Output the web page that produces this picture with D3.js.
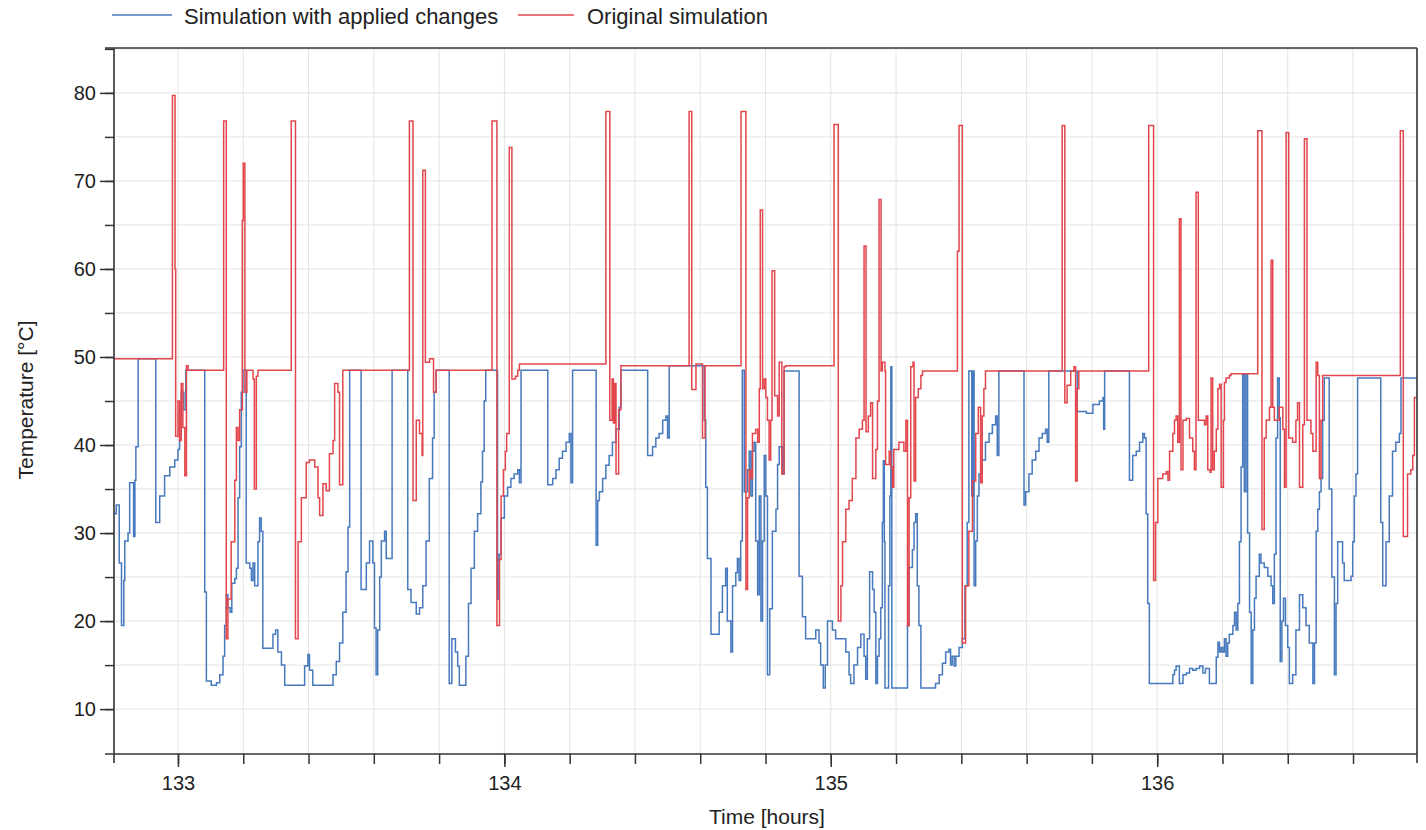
<!DOCTYPE html>
<html>
<head>
<meta charset="utf-8">
<script src="https://cdn.jsdelivr.net/npm/d3@7"></script>
<style>
  body { margin: 0; background: #fff; }
  svg text { font-family: "Liberation Sans", Arial, sans-serif; fill: #222; }
</style>
</head>
<body>
<svg id="chart"></svg>
<script>
// ---------------------------- Data ----------------------------

// Original simulation (red) - time [h], temperature [°C], value holds until next time
var timeOriginal = [
  132.803,132.983,132.991,132.993,133.000,133.005,133.010,133.015,133.021,133.026,133.031,
  133.140,133.148,133.153,133.163,133.174,133.179,133.184,133.189,133.197,133.200,133.205,133.211,133.230,133.234,133.240,133.245,
  133.347,133.360,133.368,133.378,133.393,133.403,133.419,133.429,133.434,133.444,133.454,133.464,133.475,133.480,133.490,133.495,133.505,
  133.709,133.720,133.730,133.740,133.748,133.750,133.758,133.771,133.783,133.791,
  133.962,133.977,133.985,133.990,133.997,134.003,134.007,134.015,134.023,134.034,134.041,134.046,
  134.311,134.323,134.330,134.334,134.338,134.342,134.350,134.357,
  134.566,134.574,134.587,134.607,134.615,
  134.725,134.740,134.745,134.750,134.755,134.760,134.770,134.776,134.781,134.784,134.791,134.796,134.801,134.806,134.811,134.816,134.820,134.828,134.837,134.842,134.850,134.857,134.862,
  135.010,135.023,135.031,135.036,135.046,135.056,135.066,135.077,135.087,135.097,135.102,135.108,135.115,135.122,135.128,135.138,135.143,135.148,135.154,135.158,135.166,135.168,135.179,135.184,135.189,135.193,135.209,135.224,135.230,135.235,135.240,135.245,135.252,135.255,135.260,135.268,135.276,135.281,
  135.388,135.393,135.403,135.413,135.423,135.434,135.444,135.452,135.459,135.464,135.469,135.474,
  135.709,135.717,135.724,135.735,135.745,135.750,135.755,135.760,
  135.974,135.989,135.995,136.002,136.017,136.028,136.033,136.038,136.048,136.053,136.058,136.063,136.068,136.073,136.079,136.089,136.099,136.109,136.114,136.119,136.126,136.145,136.150,136.155,136.162,136.165,136.170,136.175,136.181,136.186,136.191,136.196,136.203,136.206,136.211,136.221,136.226,
  136.308,136.321,136.328,136.334,136.344,136.349,136.354,136.359,136.374,136.385,136.390,136.395,136.403,136.415,136.425,136.430,136.436,136.446,136.451,136.459,136.471,136.477,136.487,136.492,136.497,136.502,136.507,
  136.745,136.754,136.767,136.777,136.783,136.788,136.796
];
var tempOriginal = [
  49.8,79.7,60,41,45,40.5,47,42,36.5,49,48.5,
  76.8,18,22.5,29,36,42,40.5,44,65.5,72,46,48.5,47.5,35,47.8,48.5,
  76.8,18,29,34,38,38.3,37.5,34,32,35.6,34.8,39,40.5,47,46,35.5,48.5,
  76.8,33.7,42.8,41.3,38.8,71.2,49.4,49.8,46,48.5,
  76.8,19.5,27,34.2,37.2,39.3,41.3,73.8,47.5,47.8,48.5,49.2,
  77.9,42.8,47.5,42.5,47,36.7,44,49,
  77.9,46.3,49.2,40.8,49,
  77.9,23.6,34,37.2,36.2,41.3,41.8,40.3,46.4,66.7,46.4,47.5,45.4,42.8,38.3,42.8,59.8,45.6,43.3,49.4,36.7,48.9,49,
  76.4,20,24,29,32.7,33.7,36.2,40.8,41.8,42.8,62.6,41.5,43.3,44.8,36.2,39.5,45,67.9,48.4,49.4,48.4,37.8,39.3,37.5,35.2,39.5,40.3,39.3,42.8,19.5,34,48.9,49.4,35.9,45.4,46.4,47.9,48.4,
  62,76.3,17.5,24,30.2,35.9,41.3,44.3,35.7,43.3,46.4,48.4,
  76.3,44.8,46.8,48.4,48.9,35.9,46.4,48.4,
  76.3,24.6,31.2,36.2,36.7,37,36,39.3,41.3,42.8,43.3,40.3,65.7,37.2,42.8,43,40.8,39.3,37.2,68.7,42.8,42.3,43.3,37.2,36.9,47.6,37.2,39.3,41.8,46.4,46.9,35.2,42.8,47.1,47.6,47.9,48.1,
  75.7,30.4,40.8,42.8,44.3,61,44.3,42.8,44.3,41.8,35.2,75.5,40.8,40.3,42.8,44.8,35.2,42.3,74.8,42.8,41.3,39.3,49.4,47.9,36.2,42.8,47.9,
  75.7,29.6,36.7,37.2,38.8,45.4,45.4
];

// Simulation with applied changes (blue)
var timeChanged = [
  132.803,132.811,132.820,132.827,132.834,132.837,132.847,132.852,132.864,132.868,132.871,132.878,
  132.932,132.944,132.959,132.975,132.990,133.000,133.005,133.010,133.018,133.024,
  133.082,133.087,133.102,133.118,133.128,133.138,133.143,133.148,133.153,133.160,133.165,133.174,133.179,133.184,133.189,133.194,133.199,
  133.209,133.220,133.225,133.230,133.235,133.245,133.250,133.255,133.260,133.291,133.299,133.306,133.317,133.327,133.388,133.398,133.403,133.413,
  133.475,133.485,133.495,133.505,133.515,133.521,133.526,
  133.561,133.577,133.587,133.597,133.602,133.607,133.612,133.618,133.623,133.633,133.638,133.656,
  133.704,133.714,133.730,133.740,133.750,133.760,133.770,133.780,133.785,133.791,
  133.831,133.839,133.850,133.857,133.862,133.882,133.890,133.898,133.908,133.918,133.928,133.933,133.938,133.943,
  133.979,133.984,133.990,134.000,134.010,134.020,134.030,134.041,134.046,134.051,
  134.133,134.148,134.158,134.168,134.178,134.189,134.199,134.204,134.209,
  134.281,134.286,134.291,134.301,134.311,134.321,134.331,134.342,134.352,134.357,
  134.439,134.454,134.464,134.474,134.485,134.495,134.500,134.505,
  134.612,134.617,134.622,134.633,134.658,134.668,134.678,134.683,134.694,134.699,134.709,134.714,134.719,134.724,134.729,134.735,134.745,
  134.750,134.755,134.760,134.765,134.770,134.776,134.781,134.786,134.791,134.796,134.801,134.806,134.813,134.821,134.832,134.837,134.842,134.852,134.857,
  134.903,134.913,134.923,134.954,134.964,134.969,134.977,134.983,134.990,135.005,135.015,135.046,135.056,135.061,135.071,135.082,135.092,135.102,135.107,135.112,135.119,135.128,135.133,135.138,135.143,135.148,135.153,135.158,135.161,135.164,135.166,135.177,135.181,135.184,135.187,
  135.235,135.240,135.250,135.255,135.260,135.265,135.270,135.276,135.321,135.332,135.342,135.352,135.362,135.367,135.372,135.378,135.383,135.393,135.403,135.411,135.418,135.423,135.432,135.436,135.439,135.444,135.449,135.454,135.464,135.474,135.485,135.495,135.505,135.510,135.515,
  135.592,135.597,135.607,135.617,135.628,135.638,135.648,135.658,135.663,135.668,
  135.755,135.783,135.803,135.823,135.834,135.836,135.839,
  135.915,135.925,135.936,135.946,135.956,135.961,135.966,135.971,135.976,
  136.048,136.053,136.058,136.068,136.079,136.089,136.099,136.109,136.119,136.130,136.140,136.148,136.160,
  136.181,136.186,136.191,136.196,136.201,136.206,136.211,136.216,136.221,136.232,136.237,136.242,136.247,136.252,136.257,136.262,136.267,136.272,136.277,136.283,136.288,
  136.293,136.298,136.303,136.313,136.318,136.328,136.339,136.349,136.354,136.359,136.364,136.369,136.374,136.377,136.382,136.387,136.393,136.400,136.405,
  136.415,136.425,136.436,136.446,136.456,136.466,136.477,136.482,136.487,136.492,136.497,136.502,136.507,136.512,
  136.527,136.535,136.543,136.548,136.553,136.568,136.573,136.594,136.599,136.604,136.609,136.614,
  136.685,136.691,136.701,136.711,136.721,136.731,136.742,136.747,136.796
];
var tempChanged = [
  32.2,33.2,26.6,19.5,24.6,29.1,30,35.7,29.6,36,39.8,49.8,
  31.2,34.2,36.5,37.5,38.3,39.5,42,46,44,48.5,
  23.3,13.2,12.7,13,13.9,16,19.5,23,21.5,21,24.3,24.8,26,34,39.8,46,48.5,
  26.6,26,24.6,26.6,24,29,31.7,30.2,16.9,18.5,19,16.5,15,12.7,14.9,16.2,14.4,12.7,
  13.9,15.4,17.5,21,25.6,30.7,48.5,
  23.6,26.6,29.1,26.6,19.2,13.9,19,25,29.1,30.2,27.1,48.5,
  23.6,22.1,20.8,21.5,24,29.1,36.2,40.8,46,48.5,
  12.9,18,16.5,14.9,12.7,16,22,26,30.2,32.2,35.8,39.3,45,48.5,
  22.5,27.6,31.7,34.2,35.2,36.2,36.7,37.2,35.7,48.5,
  35.5,36.2,37.2,38.5,39.3,40.3,41.3,35.7,48.5,
  28.6,33.7,34.7,36.2,37.7,38.8,40.3,41.8,44.3,48.5,
  38.8,39.8,40.8,41.3,42.8,43.3,40.8,49,
  42.8,35.2,27.1,18.5,21,24,26,20,16.5,24,25.5,27.1,24.6,29.1,48.5,34.7,37.2,
  39.3,34.2,39.3,40.3,29.1,23,34.2,20,29.1,38.8,34.2,13.9,21.4,30.2,32.7,37.8,39.8,36.7,48.4,
  25.1,20.5,18,19,17.5,15,12.4,15,20,19,18,16.5,13.9,12.9,15,17,18.5,16,13.4,18,25.6,23.6,21,12.9,16,18,21.5,31.2,38.2,29,12.4,24,34.2,48.9,12.4,
  19.5,26.1,28.1,31.2,32.2,24,19.5,12.4,12.9,13.9,15.2,16.5,16.8,15,16,14.9,16,17,18,24,31.2,48.4,34.2,48.4,24,29.1,34.2,36.7,38.3,40.3,41.3,42.3,43.3,38.8,48.4,
  33.2,34.7,36.7,38.3,39.3,40.8,41.3,41.8,40.3,48.4,
  43.8,43.6,44.6,45,45.4,41.8,48.4,
  36,38.8,39.3,40.3,41.3,40.8,32.2,22,12.9,
  13.9,14.4,14.9,12.9,13.9,14.1,14.6,14.4,14.6,14.9,14.1,14.6,12.9,
  15.9,17.6,16.5,17,16.5,18,16,17.5,18.5,19.5,21,19,22,29,37.5,48,34.7,48,30,21,12.9,
  19,22.6,25.1,27.6,26.6,26.1,25.1,24,22,27.6,40.8,47.6,43.1,15.4,20,22.6,19.5,17,12.9,
  13.9,19,23,21.5,19.5,17.5,12.9,17.5,30.2,32.7,34.7,36.2,42.8,47.6,
  35,25,13.9,22,29,26.6,24.6,25.1,29,34.2,36.7,47.6,
  31.2,24,29,34.2,39.3,40.3,41.3,47.6,47.6
];

var legendLabels = ["Simulation with applied changes", "Original simulation"];
var xTickLabels = [133, 134, 135, 136];
var yTickLabels = [10, 20, 30, 40, 50, 60, 70, 80];

// ---------------------------- Chart ----------------------------

drawChart();

function drawChart(){

  var width = 1426, height = 830;
  var plotLeft = 114, plotRight = 1417, plotTop = 48, plotBottom = 754;
  var blue = "#4679bd", red = "#e2464c", axisColor = "#333";

  var svg = d3.select("#chart")
    .attr("width", width)
    .attr("height", height);

  svg.append("rect").attr("width", width).attr("height", height).attr("fill", "#fff");

  var xScale = d3.scaleLinear().domain([132.804, 136.796]).range([plotLeft, plotRight]);
  var yScale = d3.scaleLinear().domain([4.9, 85.1]).range([plotBottom, plotTop]);

  var xMinor = d3.range(133, 136.7, 0.2).map(d => +d.toFixed(1));
  var yMinor = d3.range(10, 86, 5);

  // grid
  svg.append("g").selectAll("line").data(xMinor).enter().append("line")
    .attr("x1", d => xScale(d)).attr("x2", d => xScale(d))
    .attr("y1", plotTop).attr("y2", plotBottom)
    .attr("stroke", "#e3e3e3").attr("stroke-width", 1);

  svg.append("g").selectAll("line").data(yMinor).enter().append("line")
    .attr("x1", plotLeft).attr("x2", plotRight)
    .attr("y1", d => yScale(d)).attr("y2", d => yScale(d))
    .attr("stroke", "#e3e3e3").attr("stroke-width", 1);

  // series
  svg.append("clipPath").attr("id", "plotClip")
    .append("rect").attr("x", plotLeft).attr("y", plotTop)
    .attr("width", plotRight - plotLeft).attr("height", plotBottom - plotTop);

  var line = d3.line()
    .x(d => xScale(d[0]))
    .y(d => yScale(d[1]))
    .curve(d3.curveStepAfter);

  var changed = timeChanged.map((t, i) => [t, tempChanged[i]]);
  var original = timeOriginal.map((t, i) => [t, tempOriginal[i]]);

  var plot = svg.append("g").attr("clip-path", "url(#plotClip)");
  plot.append("path").datum(changed)
    .attr("d", line).attr("fill", "none")
    .attr("stroke", blue).attr("stroke-width", 1.5);
  plot.append("path").datum(original)
    .attr("d", line).attr("fill", "none")
    .attr("stroke", red).attr("stroke-width", 1.5);

  // axes
  var xMinorAxis = d3.axisBottom(xScale).tickValues(xMinor).tickSize(10).tickFormat("");
  var xAxis = d3.axisBottom(xScale).tickValues(xTickLabels).tickSize(13).tickPadding(9).tickFormat(d3.format("d"));
  var yMinorAxis = d3.axisLeft(yScale).tickValues(yMinor).tickSize(9).tickFormat("");
  var yAxis = d3.axisLeft(yScale).tickValues(yTickLabels).tickSize(14).tickPadding(4).tickFormat(d3.format("d"));

  [xMinorAxis, xAxis].forEach(function(ax){
    svg.append("g").attr("transform", "translate(0," + plotBottom + ")").call(ax)
      .call(g => g.select(".domain").remove());
  });
  [yMinorAxis, yAxis].forEach(function(ax){
    svg.append("g").attr("transform", "translate(" + plotLeft + ",0)").call(ax)
      .call(g => g.select(".domain").remove());
  });

  svg.selectAll(".tick line").attr("stroke", axisColor).attr("stroke-width", 1.5);
  svg.selectAll(".tick text").style("font-size", "20px").attr("fill", "#222");

  // frame
  var frame = [
    [plotLeft - 9, plotTop, plotRight, plotTop],
    [plotRight, plotTop, plotRight, plotBottom + 9],
    [plotLeft - 9, plotBottom, plotRight, plotBottom],
    [plotLeft, plotTop, plotLeft, plotBottom + 9]
  ];
  svg.append("g").selectAll("line").data(frame).enter().append("line")
    .attr("x1", d => d[0]).attr("y1", d => d[1]).attr("x2", d => d[2]).attr("y2", d => d[3])
    .attr("stroke", axisColor).attr("stroke-width", 1.6);

  // axis titles
  svg.append("text")
    .text("Time [hours]")
    .attr("x", 767).attr("y", 824)
    .attr("text-anchor", "middle")
    .style("font-size", "21px");

  svg.append("text")
    .text("Temperature [°C]")
    .attr("transform", "translate(33,400) rotate(-90)")
    .attr("text-anchor", "middle")
    .style("font-size", "21px");

  // legend
  var legendItems = [
    { label: legendLabels[0], color: blue, x1: 112, x2: 172, tx: 184 },
    { label: legendLabels[1], color: red, x1: 518, x2: 574, tx: 587 }
  ];
  var legend = svg.append("g").selectAll("g").data(legendItems).enter().append("g");
  legend.append("line")
    .attr("x1", d => d.x1).attr("x2", d => d.x2)
    .attr("y1", 15).attr("y2", 15)
    .attr("stroke", d => d.color).attr("stroke-width", 1.5);
  legend.append("text")
    .text(d => d.label)
    .attr("x", d => d.tx).attr("y", 24)
    .style("font-size", "22px");
}
</script>
</body>
</html>
